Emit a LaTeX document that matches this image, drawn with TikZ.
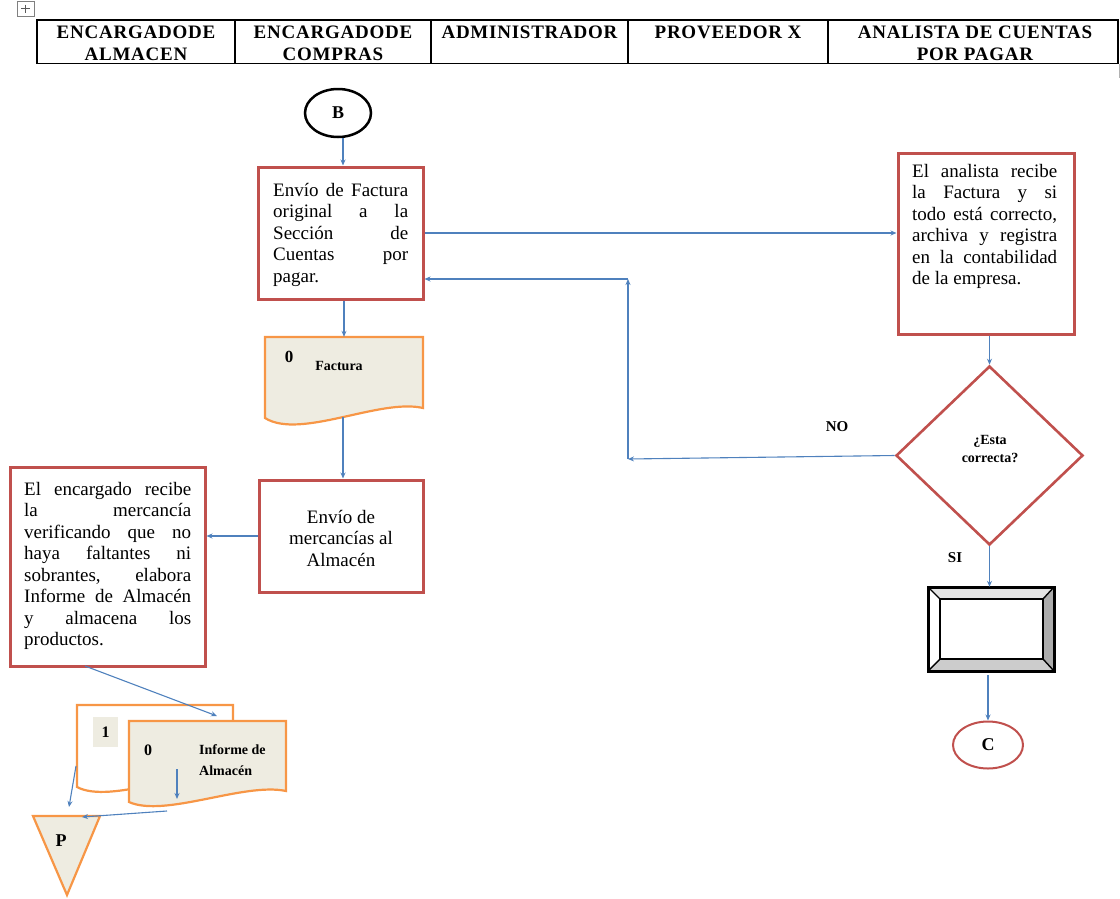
\documentclass[tikz,border=0pt]{standalone}
\usepackage{fontspec}
\setmainfont{Liberation Serif}
\usetikzlibrary{shapes.geometric,arrows.meta}
\definecolor{boxred}{HTML}{C0504D}
\definecolor{docor}{HTML}{F79646}
\definecolor{docfill}{HTML}{EEECE1}
\definecolor{arrblue}{HTML}{4F81BD}
\tikzset{
  pbox/.style={draw=boxred, line width=3pt, rectangle, inner sep=0pt, fill=white},
  arr/.style={draw=arrblue, line width=1.1pt, -{Stealth[length=6pt,width=5pt]}},
  hdr/.style={font=\fontsize{19}{21}\selectfont\bfseries\addfontfeature{LetterSpace=4}, anchor=base, inner sep=0pt},
  txt/.style={anchor=base west, inner sep=0pt, font=\fontsize{19}{21.5}\selectfont},
  lbl/.style={anchor=base, inner sep=0pt, font=\fontsize{14}{18}\selectfont\bfseries},
  docshape/.style={draw=docor, line width=2.2pt, fill=docfill},
  hole/.style={inner sep=0pt, rectangle},
}
\begin{document}
\begin{tikzpicture}[x=1pt,y=-1pt]
\useasboundingbox (0,0) rectangle (1120,898);

% table move handle
\draw[gray, line width=0.6pt] (17,1.5) rectangle (34,16);
\draw[gray!70!black, line width=0.8pt] (21,8.5) -- (30,8.5) (25.5,4.5) -- (25.5,12.5);

% header table
\draw[line width=1.4pt] (37,20) rectangle (1118,63.5);
\foreach \xx in {235,431,628,828} \draw[line width=1.2pt] (\xx,20) -- (\xx,63.5);
\draw[gray!60, line width=0.8pt] (1119.3,63.5) -- (1119.3,78);
\node[hdr] (h1a) at (136,38.5) {ENCARGADODE};
\node[hdr] (h1b) at (136,60) {ALMACEN};
\node[hdr] (h2a) at (333,38.5) {ENCARGADODE};
\node[hdr] (h2b) at (333,60) {COMPRAS};
\node[hdr] (h3) at (529.5,38.5) {ADMINISTRADOR};
\node[hdr] (h4) at (728,38.5) {PROVEEDOR X};
\node[hdr] (h5a) at (975,38.5) {ANALISTA DE CUENTAS};
\node[hdr] (h5b) at (975,60) {POR PAGAR};

% connector B
\node[draw=black, line width=2.5pt, ellipse, minimum width=66, minimum height=48, inner sep=0pt,
      font=\fontsize{18}{20}\selectfont\bfseries] (B) at (338,113) {B};

% process boxes
\node[pbox, minimum width=165, minimum height=132] (b1) at (340.5,233) {};
\node[txt] (t1) at (273,196) {\parbox[t]{135pt}{Envío\hfill de\hfill Factura\\
original\hfill a\hfill la\\
Sección\hfill de\\
Cuentas\hfill por\\
pagar.}};

\node[pbox, minimum width=164, minimum height=112] (b2) at (341,536) {};
\node[txt, anchor=base] (t2) at (341,523) {\parbox[t]{150pt}{\centering Envío de\\ mercancías al\\ Almacén}};

\node[pbox, minimum width=195, minimum height=199] (b3) at (107.5,566.5) {};
\node[txt] (t3) at (24,495) {\parbox[t]{167pt}{El\hfill encargado\hfill recibe\\
la\hfill mercancía\\
verificando\hfill que\hfill no\\
haya\hfill faltantes\hfill ni\\
sobrantes,\hfill elabora\\
Informe\hfill de\hfill Almacén\\
y\hfill almacena\hfill los\\
productos.}};

\node[pbox, minimum width=176, minimum height=181] (an) at (986,243.5) {};
\node[txt, font=\fontsize{19}{21.5}\selectfont] (t4) at (912,177) {\parbox[t]{145pt}{El\hfill analista\hfill recibe\\
la\hfill Factura\hfill y\hfill si\\
todo\hfill está\hfill correcto,\\
archiva\hfill y\hfill registra\\
en\hfill la\hfill contabilidad\\
de la empresa.}};

% Factura document
\node[hole, minimum width=158, minimum height=89] (fac) at (344,381.5) {};
\draw[docshape] (265,337) -- (423,337) -- (423,408) .. controls (380,398) and (300,440) .. (265,418) -- cycle;
\node[lbl, font=\fontsize{17}{18}\selectfont\bfseries] (f0) at (289,362) {0};
\node[lbl] (ft) at (339,370) {Factura};
\coordinate (facb) at (343,417);

% Informe de Almacen documents
\node[hole, minimum width=156, minimum height=85] (d1) at (155,747.5) {};
\draw[docshape, fill=white] (77,705) -- (233,705) -- (233,777) .. controls (191,767) and (111,805) .. (77,787) -- cycle;
\node[hole, fill=docfill, minimum width=25, minimum height=30] (sq) at (105.5,732) {};
\node[lbl, font=\fontsize{16}{18}\selectfont\bfseries] (s1) at (105.5,737) {1};
\node[hole, minimum width=157, minimum height=87] (d0) at (207.5,764.5) {};
\draw[docshape] (129,721) -- (286,721) -- (286,791) .. controls (244,782) and (165,818) .. (129,802) -- cycle;
\node[lbl, font=\fontsize{16}{18}\selectfont\bfseries] (d0n) at (148,755) {0};
\node[lbl, anchor=base west] (d0a) at (199,754) {Informe de};
\node[lbl, anchor=base west] (d0b) at (199,775) {Almacén};

% archive triangle
\node[hole, minimum width=67, minimum height=79] (pn) at (66.5,855.5) {};
\draw[docshape] (33,816) -- (100,816) -- (67,895) -- cycle;
\node[lbl, font=\fontsize{18}{20}\selectfont\bfseries] (pl) at (61,846) {P};

% decision
\node[draw=boxred, line width=2.6pt, diamond, minimum width=187, minimum height=179, inner sep=0pt] (dia) at (989.5,455.5) {};
\node[lbl] (q1) at (990,444) {¿Esta};
\node[lbl] (q2) at (990,462) {correcta?};
\node[lbl, font=\fontsize{15}{18}\selectfont\bfseries] (no) at (837,431) {NO};
\node[lbl, font=\fontsize{15}{18}\selectfont\bfseries] (si) at (955,562) {SI};

% display
\node[hole, minimum width=126, minimum height=84] (disp) at (991,629) {};
\fill[gray!22] (928,587) -- (1054,587) -- (1043,599) -- (940,599) -- cycle;
\fill[white] (928,587) -- (940,599) -- (940,659) -- (928,671) -- cycle;
\fill[gray!65] (1054,587) -- (1054,671) -- (1043,659) -- (1043,599) -- cycle;
\fill[gray!40] (928,671) -- (940,659) -- (1043,659) -- (1054,671) -- cycle;
\draw[line width=3pt] (928,587) rectangle (1054,671);
\draw[line width=2pt] (940,599) rectangle (1043,659);
\draw[line width=1.4pt] (928,587) -- (940,599) (1054,587) -- (1043,599) (928,671) -- (940,659) (1054,671) -- (1043,659);

% connector C
\node[draw=boxred, line width=2pt, ellipse, minimum width=70, minimum height=47, inner sep=0pt,
      font=\fontsize{18}{20}\selectfont\bfseries] (C) at (988,745) {C};

% connectors
\draw[arr] ([xshift=5pt]B.south) -- ([xshift=5pt]B.south |- b1.north);
\draw[arr] (b1.east) -- (b1.east -| an.west);
\draw[arr] (fac.north |- b1.south) -- (fac.north);
\draw[arr] (facb) -- (facb |- b2.north);
\draw[arr] (b2.west) -- (b2.west -| b3.east);
\coordinate (a1) at (85,666);
\coordinate (a2) at (217,716);
\draw[arr] (a1) -- (a2);
\coordinate (c1) at (76,766);
\coordinate (c2) at (69,807);
\draw[arr] (c1) -- (c2);
\coordinate (e1) at (177,769);
\coordinate (e2) at (177,799);
\draw[arr] (e1) -- (e2);
\coordinate (g1) at (167,811);
\coordinate (g2) at (82,817);
\draw[arr] (g1) -- (g2);
\draw[arr] (an.south -| dia.north) -- (dia.north);
\coordinate (n1) at (628,459);
\coordinate (n2) at (628,279);
\draw[arr] (dia.west) -- (n1);
\draw[arr] (n1) -- (n2);
\draw[arr] (n2) -- (n2 -| b1.east);
\draw[arr] (dia.south) -- (dia.south |- disp.north);
\coordinate (dspo) at (988,675);
\draw[arr] (dspo) -- (C.north);
\end{tikzpicture}
\end{document}
